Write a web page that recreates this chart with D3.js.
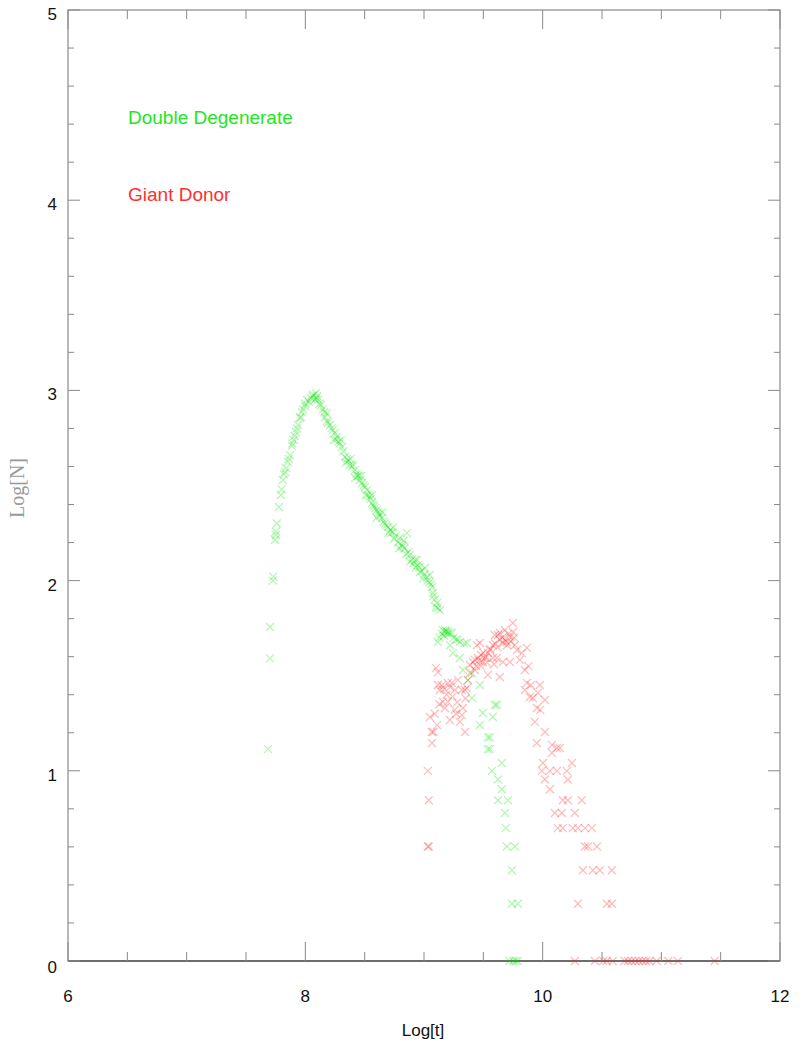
<!DOCTYPE html>
<html>
<head>
<meta charset="utf-8">
<script src="https://cdn.jsdelivr.net/npm/d3@7"></script>
<style>
  body { margin: 0; background: #fff; }
  svg text { font-family: "Liberation Sans", Arial, sans-serif; }
</style>
</head>
<body>
<div id="chart"></div>
<script>
// Log[t], Log[N] pairs
const doubleDegenerate = [
  [7.685, 1.114], [7.702, 1.591], [7.702, 1.756], [7.727, 2.000], [7.730, 2.021],
  [7.744, 2.215], [7.752, 2.240], [7.752, 2.258], [7.760, 2.300], [7.778, 2.387],
  [7.794, 2.450], [7.800, 2.480], [7.811, 2.529], [7.820, 2.560], [7.830, 2.570],
  [7.837, 2.592], [7.853, 2.624], [7.860, 2.640], [7.870, 2.660], [7.887, 2.708],
  [7.890, 2.720], [7.904, 2.739], [7.910, 2.760], [7.921, 2.781], [7.930, 2.800],
  [7.938, 2.818], [7.955, 2.855], [7.960, 2.860], [7.971, 2.886], [7.980, 2.900],
  [7.997, 2.918], [8.000, 2.930], [8.013, 2.950], [8.030, 2.940], [8.047, 2.960],
  [8.060, 2.970], [8.070, 2.976], [8.080, 2.950], [8.089, 2.986], [8.095, 2.960],
  [8.100, 2.970], [8.106, 2.950], [8.120, 2.930], [8.131, 2.923], [8.148, 2.900],
  [8.160, 2.885], [8.165, 2.860], [8.185, 2.840], [8.190, 2.830], [8.207, 2.818],
  [8.220, 2.800], [8.230, 2.790], [8.249, 2.776], [8.260, 2.740], [8.266, 2.755],
  [8.280, 2.730], [8.290, 2.720], [8.308, 2.702], [8.320, 2.680], [8.334, 2.650],
  [8.350, 2.640], [8.360, 2.630], [8.376, 2.608], [8.395, 2.600], [8.400, 2.610],
  [8.418, 2.581], [8.430, 2.560], [8.440, 2.550], [8.450, 2.550], [8.460, 2.529],
  [8.477, 2.513], [8.490, 2.500], [8.502, 2.492], [8.519, 2.476], [8.530, 2.450],
  [8.540, 2.440], [8.550, 2.430], [8.561, 2.408], [8.570, 2.397], [8.580, 2.390],
  [8.590, 2.380], [8.600, 2.370], [8.612, 2.360], [8.620, 2.350], [8.630, 2.340],
  [8.645, 2.329], [8.660, 2.310], [8.670, 2.300], [8.680, 2.290], [8.696, 2.282],
  [8.715, 2.265], [8.720, 2.250], [8.738, 2.255], [8.750, 2.220], [8.760, 2.235],
  [8.780, 2.200], [8.797, 2.224], [8.814, 2.187], [8.820, 2.180], [8.835, 2.170],
  [8.850, 2.140], [8.856, 2.250], [8.870, 2.150], [8.881, 2.135], [8.900, 2.110],
  [8.910, 2.090], [8.923, 2.108], [8.930, 2.070], [8.945, 2.080], [8.960, 2.070],
  [8.965, 2.045], [8.980, 2.050], [9.000, 2.030], [9.008, 2.066], [9.024, 2.019],
  [9.030, 2.000], [9.045, 1.990], [9.060, 1.980], [9.067, 1.966], [9.075, 1.935],
  [9.080, 1.920], [9.090, 1.900], [9.100, 1.860], [9.109, 1.882], [9.117, 1.856],
  [9.134, 1.845],
  [8.180, 2.880], [8.240, 2.740], [8.300, 2.740], [8.340, 2.620], [8.380, 2.640],
  [8.420, 2.540], [8.470, 2.550], [8.510, 2.450], [8.560, 2.450], [8.600, 2.330],
  [8.650, 2.360], [8.700, 2.250], [8.740, 2.280], [8.790, 2.170], [8.830, 2.210],
  [8.880, 2.100], [8.940, 2.110], [8.990, 2.010], [9.050, 2.030],
  [9.130, 1.700], [9.150, 1.720], [9.159, 1.740], [9.170, 1.710],
  [9.176, 1.730], [9.180, 1.740], [9.190, 1.735], [9.200, 1.720], [9.201, 1.730],
  [9.218, 1.725], [9.220, 1.660], [9.235, 1.725], [9.250, 1.700], [9.270, 1.690],
  [9.117, 1.677], [9.302, 1.677], [9.285, 1.688], [9.340, 1.670], [9.361, 1.672],
  [9.243, 1.619], [9.302, 1.593], [9.328, 1.530], [9.404, 1.514], [9.370, 1.477],
  [9.471, 1.451], [9.404, 1.383], [9.597, 1.346], [9.614, 1.346], [9.496, 1.304],
  [9.580, 1.283], [9.471, 1.241], [9.538, 1.176], [9.555, 1.176], [9.538, 1.114],
  [9.555, 1.114], [9.656, 1.041], [9.572, 1.000], [9.623, 0.954], [9.656, 0.903],
  [9.623, 0.845], [9.707, 0.845], [9.682, 0.778], [9.690, 0.699], [9.698, 0.602],
  [9.766, 0.602], [9.741, 0.477], [9.741, 0.301], [9.791, 0.301],
  [9.720, 0], [9.750, 0], [9.770, 0], [9.790, 0]
];

const giantDonor = [
  [9.032, 1.000], [9.040, 0.845], [9.032, 0.602], [9.040, 0.602], [9.065, 1.204],
  [9.080, 1.204], [9.067, 1.146], [9.050, 1.283], [9.090, 1.300], [9.110, 1.240],
  [9.101, 1.540], [9.117, 1.519], [9.117, 1.451], [9.130, 1.350], [9.134, 1.425],
  [9.150, 1.450], [9.159, 1.362], [9.170, 1.430], [9.176, 1.330], [9.190, 1.400],
  [9.201, 1.362], [9.201, 1.462], [9.218, 1.267], [9.220, 1.440], [9.235, 1.462],
  [9.240, 1.390], [9.260, 1.425], [9.270, 1.300], [9.280, 1.360], [9.286, 1.477],
  [9.260, 1.320], [9.319, 1.425], [9.328, 1.330], [9.345, 1.204], [9.319, 1.293],
  [9.302, 1.257], [9.345, 1.425], [9.350, 1.380], [9.361, 1.435], [9.370, 1.477],
  [9.387, 1.556], [9.387, 1.514], [9.412, 1.572], [9.429, 1.583], [9.429, 1.530],
  [9.440, 1.550], [9.454, 1.593], [9.446, 1.661], [9.460, 1.580], [9.471, 1.672],
  [9.480, 1.609], [9.480, 1.550], [9.496, 1.572], [9.500, 1.620], [9.513, 1.593],
  [9.520, 1.600], [9.530, 1.570], [9.538, 1.504], [9.540, 1.620], [9.555, 1.635],
  [9.560, 1.640], [9.580, 1.593], [9.580, 1.660], [9.590, 1.560], [9.597, 1.714],
  [9.600, 1.670], [9.614, 1.593], [9.620, 1.650], [9.623, 1.714], [9.639, 1.725],
  [9.640, 1.690], [9.639, 1.493], [9.660, 1.700], [9.665, 1.672], [9.665, 1.572],
  [9.680, 1.690], [9.682, 1.740], [9.698, 1.677], [9.700, 1.660], [9.710, 1.720],
  [9.724, 1.703], [9.730, 1.680], [9.724, 1.572], [9.749, 1.777], [9.750, 1.730],
  [9.760, 1.700], [9.766, 1.661], [9.783, 1.635], [9.808, 1.583], [9.825, 1.619],
  [9.850, 1.530], [9.867, 1.646], [9.850, 1.425], [9.867, 1.462], [9.880, 1.550],
  [9.892, 1.388], [9.900, 1.450], [9.917, 1.383], [9.960, 1.410], [9.976, 1.451],
  [9.980, 1.320], [10.019, 1.372], [9.951, 1.330], [9.934, 1.257], [10.019, 1.204],
  [9.951, 1.146], [10.078, 1.136], [10.120, 1.120], [10.145, 1.120], [10.078, 1.094],
  [10.002, 1.041], [10.246, 1.041], [9.993, 1.000], [10.061, 1.000], [10.120, 1.000],
  [10.204, 1.000], [10.019, 0.954], [10.212, 0.954], [10.061, 0.903], [10.170, 0.845],
  [10.212, 0.845], [10.330, 0.845], [10.103, 0.778], [10.162, 0.778], [10.271, 0.778],
  [10.128, 0.699], [10.170, 0.699], [10.254, 0.699], [10.297, 0.699], [10.356, 0.699],
  [10.415, 0.699], [10.356, 0.602], [10.381, 0.602], [10.457, 0.602], [10.339, 0.477],
  [10.423, 0.477], [10.482, 0.477], [10.583, 0.477], [10.297, 0.301], [10.541, 0.301],
  [10.583, 0.301],
  [10.271, 0], [10.440, 0], [10.510, 0], [10.540, 0], [10.590, 0], [10.690, 0],
  [10.720, 0], [10.750, 0], [10.780, 0], [10.810, 0], [10.840, 0], [10.870, 0],
  [10.900, 0], [10.960, 0], [11.060, 0], [11.140, 0], [11.450, 0]
];

const xMajorTicks = [6, 8, 10, 12];
const yMajorTicks = [0, 1, 2, 3, 4, 5];
const legendLabels = ["Double Degenerate", "Giant Donor"];

const width = 804, height = 1062;
const margin = { left: 68, right: 780, top: 10, bottom: 961 };

const x = d3.scaleLinear().domain([6, 12]).range([margin.left, margin.right]);
const y = d3.scaleLinear().domain([0, 5]).range([margin.bottom, margin.top]);

const svg = d3.select('#chart').append('svg')
  .attr('width', width)
  .attr('height', height);

const axisColor = '#8a8a8a';

// frame
svg.append('rect')
  .attr('x', margin.left).attr('y', margin.top)
  .attr('width', margin.right - margin.left).attr('height', margin.bottom - margin.top)
  .attr('fill', 'none')
  .attr('stroke', axisColor)
  .attr('stroke-width', 1.2);
svg.append('line')
  .attr('x1', margin.left).attr('x2', margin.right)
  .attr('y1', margin.bottom).attr('y2', margin.bottom)
  .attr('stroke', '#555').attr('stroke-width', 1.5);

// x ticks, bottom and top
const xMinor = d3.range(6, 12.01, 0.5);
xMinor.forEach(v => {
  const len = xMajorTicks.includes(v) ? 19 : 9;
  svg.append('line').attr('x1', x(v)).attr('x2', x(v))
    .attr('y1', margin.bottom).attr('y2', margin.bottom - len)
    .attr('stroke', axisColor).attr('stroke-width', 1);
  svg.append('line').attr('x1', x(v)).attr('x2', x(v))
    .attr('y1', margin.top).attr('y2', margin.top + len)
    .attr('stroke', axisColor).attr('stroke-width', 1);
});

// y ticks, left and right
const yMinor = d3.range(0, 5.01, 0.2).map(v => +v.toFixed(1));
yMinor.forEach(v => {
  const len = yMajorTicks.includes(v) ? 12 : 6;
  svg.append('line').attr('x1', margin.left).attr('x2', margin.left + len)
    .attr('y1', y(v)).attr('y2', y(v))
    .attr('stroke', axisColor).attr('stroke-width', 1);
  svg.append('line').attr('x1', margin.right).attr('x2', margin.right - len)
    .attr('y1', y(v)).attr('y2', y(v))
    .attr('stroke', axisColor).attr('stroke-width', 1);
});

// tick labels
svg.selectAll('.xlab').data(xMajorTicks).enter().append('text')
  .attr('x', d => x(d))
  .attr('y', 1002)
  .attr('text-anchor', 'middle')
  .attr('font-size', 17)
  .attr('fill', '#111')
  .text(d => d);

svg.selectAll('.ylab').data(yMajorTicks).enter().append('text')
  .attr('x', 57)
  .attr('y', d => y(d) + (d === 0 ? 12 : 10))
  .attr('text-anchor', 'end')
  .attr('font-size', 17)
  .attr('fill', '#111')
  .text(d => d);

// axis titles
svg.append('text')
  .attr('x', 423).attr('y', 1036)
  .attr('text-anchor', 'middle')
  .attr('font-size', 17)
  .style('font-family', '"Liberation Sans Narrow", "Liberation Sans", sans-serif')
  .attr('fill', '#111')
  .text('Log[t]');

svg.append('text')
  .attr('transform', 'translate(24,488) rotate(-90)')
  .attr('text-anchor', 'middle')
  .attr('font-size', 20)
  .style('font-family', '"Liberation Serif", "DejaVu Serif", serif')
  .attr('fill', '#999')
  .text('Log[N]');

// legend
svg.append('text').attr('x', 128).attr('y', 124)
  .attr('font-size', 19).attr('fill', '#22e622')
  .text(legendLabels[0]);
svg.append('text').attr('x', 128).attr('y', 201)
  .attr('font-size', 19).attr('fill', '#ff3030')
  .text(legendLabels[1]);

// markers
const cross = 'M-4,-4L4,4M-4,4L4,-4';
function drawSeries(data, color) {
  svg.append('g').selectAll('path')
    .data(data)
    .enter().append('path')
    .attr('d', cross)
    .attr('transform', d => `translate(${x(d[0])},${y(d[1])})`)
    .attr('fill', 'none')
    .attr('stroke', color)
    .attr('stroke-width', 1.2)
    .attr('stroke-opacity', 0.3);
}
drawSeries(doubleDegenerate, '#00e000');
drawSeries(giantDonor, '#ff2020');
</script>
</body>
</html>
